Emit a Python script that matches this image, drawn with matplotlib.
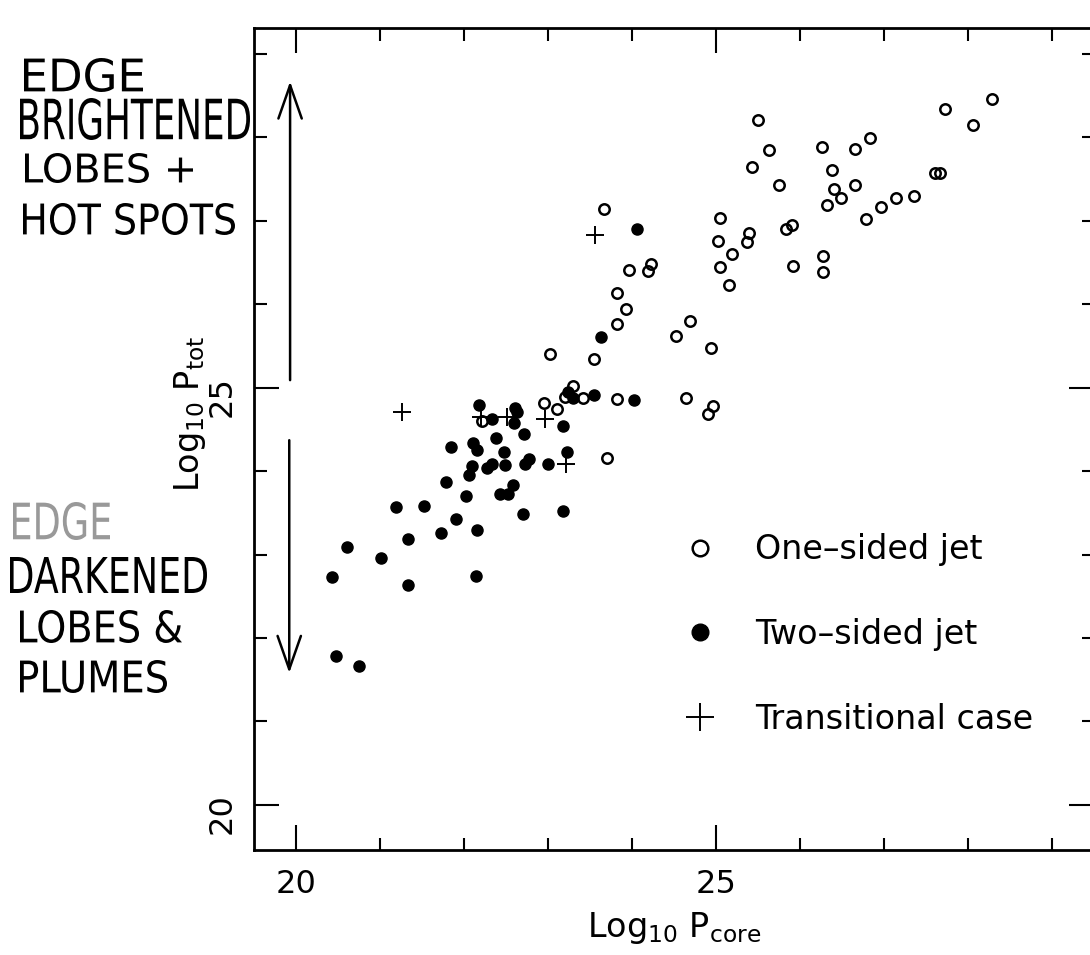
import numpy as np
import matplotlib
matplotlib.use("Agg")
import matplotlib.pyplot as plt
from matplotlib.lines import Line2D
from matplotlib.textpath import TextPath
from matplotlib.patches import PathPatch
from matplotlib.font_manager import FontProperties
from matplotlib.transforms import Affine2D, IdentityTransform

# one-sided jet sources (open circles)
one_x = [25.50, 25.63, 25.43, 25.75, 26.26, 26.65, 26.83, 26.38, 26.66, 26.41,
         26.49, 26.32, 26.79, 26.96, 27.14, 27.36, 27.61, 27.67, 27.73, 28.06,
         28.29, 23.67, 25.05, 25.03, 25.39, 25.37, 25.19, 25.05, 25.15, 25.83,
         25.90, 25.92, 26.28, 26.28, 23.96, 24.19, 24.23, 23.82, 23.93, 23.82,
         23.55, 24.52, 24.69, 24.94, 23.42, 23.82, 24.64, 24.96, 24.90, 23.02,
         23.30, 23.20, 22.95, 23.11, 22.21, 23.70]
one_y = [28.21, 27.85, 27.65, 27.43, 27.88, 27.86, 27.99, 27.61, 27.43, 27.38,
         27.27, 27.19, 27.02, 27.17, 27.27, 27.30, 27.57, 27.57, 28.34, 28.15,
         28.46, 27.14, 27.03, 26.76, 26.85, 26.75, 26.60, 26.44, 26.23, 26.90,
         26.95, 26.46, 26.58, 26.39, 26.41, 26.40, 26.48, 26.14, 25.94, 25.76,
         25.34, 25.62, 25.80, 25.48, 24.87, 24.86, 24.87, 24.78, 24.68, 25.40,
         25.02, 24.89, 24.82, 24.75, 24.60, 24.16]

# two-sided jet sources (filled circles)
two_x = [24.06, 23.63, 23.55, 24.03, 23.24, 23.30, 22.18, 22.33, 22.61, 22.63,
         22.59, 23.18, 22.71, 22.38, 21.85, 22.11, 22.16, 22.48, 23.23, 22.09,
         22.06, 22.28, 22.33, 22.49, 22.73, 22.78, 23.00, 21.79, 22.02, 22.43,
         22.53, 22.58, 21.19, 21.53, 22.70, 23.18, 21.90, 21.33, 21.73, 22.16,
         20.61, 21.01, 20.43, 21.33, 22.14, 20.48, 20.75]
two_y = [26.90, 25.61, 24.91, 24.85, 24.95, 24.88, 24.79, 24.63, 24.76, 24.71,
         24.58, 24.54, 24.45, 24.40, 24.29, 24.34, 24.25, 24.23, 24.23, 24.06,
         23.95, 24.04, 24.09, 24.07, 24.09, 24.15, 24.09, 23.87, 23.70, 23.72,
         23.73, 23.83, 23.57, 23.58, 23.49, 23.52, 23.43, 23.19, 23.26, 23.30,
         23.09, 22.96, 22.73, 22.63, 22.74, 21.78, 21.66]

# transitional cases (plus signs)
tr_x = [23.56, 21.26, 22.20, 22.51, 22.96, 23.22]
tr_y = [26.83, 24.71, 24.65, 24.65, 24.63, 24.09]

W, H = 1090, 955
fig = plt.figure(figsize=(W / 100, H / 100), dpi=100)
ax = fig.add_axes([0.233, 0.11, 0.7706, 0.8607])

ax.plot(one_x, one_y, 'o', ms=7.5, mfc='none', mec='k', mew=1.8, ls='none')
ax.plot(two_x, two_y, 'o', ms=8, mfc='k', mec='k', ls='none')
ax.plot(tr_x, tr_y, '+', ms=13, mec='k', mew=1.4, ls='none')

ax.set_xlim(19.5, 29.5)
ax.set_ylim(19.46, 29.31)
ax.set_xticks([20, 25])
ax.set_xticks(np.arange(20, 30), minor=True)
ax.set_yticks([20, 25])
ax.set_yticks(np.arange(20, 30), minor=True)
ax.tick_params(which='major', direction='in', length=18, width=1.5,
               top=True, right=True, labelsize=23)
ax.tick_params(which='minor', direction='in', length=9, width=1.5,
               top=True, right=True)
ax.tick_params(axis='x', pad=14)
ax.tick_params(axis='y', labelrotation=90, pad=12)
for sp in ax.spines.values():
    sp.set_linewidth(2)

ax.set_xlabel(r'Log$_{10}$ P$_{\rm core}$', fontsize=24, labelpad=7)
ax.set_ylabel(r'Log$_{10}$ P$_{\rm tot}$', fontsize=24)
ax.yaxis.set_label_coords(-0.055, 0.53)

# legend
handles = [Line2D([], [], marker='o', ls='none', ms=7.5, mfc='none', mec='k', mew=1.8),
           Line2D([], [], marker='o', ls='none', ms=8, mfc='k', mec='k'),
           Line2D([], [], marker='+', ls='none', ms=13, mec='k', mew=1.4)]
labels = ['One\u2013sided jet', 'Two\u2013sided jet', 'Transitional case']
ax.legend(handles, labels, loc='upper left', bbox_to_anchor=(0.511, 0.385),
          frameon=False, fontsize=24, markerscale=1.5, handlelength=1.0,
          handletextpad=1.16, labelspacing=1.55, borderpad=0, borderaxespad=0)

# arrows drawn by hand next to the axis
arrow = dict(arrowstyle='->,head_length=1.2,head_width=0.42', lw=1.8,
             color='k', mutation_scale=20, shrinkA=0, shrinkB=0)
ax.annotate('', xy=(19.93, 28.67), xytext=(19.93, 25.09), arrowprops=arrow)
ax.annotate('', xy=(19.92, 21.58), xytext=(19.92, 24.37), arrowprops=arrow)

# handwritten notes, placed in pixel boxes (left, top, right, bottom)
hand_font = FontProperties(family='DejaVu Sans')


def hand_text(s, x0, top, x1, bottom, color='k'):
    tp = TextPath((0, 0), s, size=1, prop=hand_font)
    ext = tp.get_extents()
    sx = (x1 - x0) / ext.width
    sy = (bottom - top) / ext.height
    tr = Affine2D().translate(-ext.x0, -ext.y0).scale(sx, sy).translate(x0, H - bottom)
    patch = PathPatch(tr.transform_path(tp), facecolor=color, edgecolor='none',
                      transform=IdentityTransform())
    fig.add_artist(patch)


hand_text('EDGE', 24, 58, 143, 92)
hand_text('BRIGHTENED', 20, 98, 250, 140)
hand_text('LOBES +', 25, 153, 193, 183)
hand_text('HOT SPOTS', 23, 203, 235, 235)

hand_text('EDGE', 13, 502, 110, 540, color='0.6')
hand_text('DARKENED', 10, 557, 207, 593)
hand_text('LOBES &', 20, 610, 182, 643)
hand_text('PLUMES', 20, 660, 167, 693)

fig.savefig('out.png', dpi=100)
